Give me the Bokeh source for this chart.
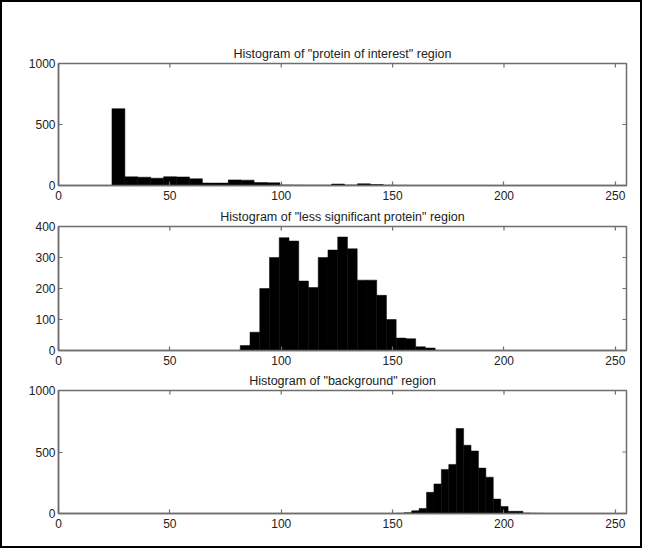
import numpy as np
from bokeh.plotting import figure
from bokeh.layouts import column
from bokeh.models import FixedTicker, Range1d
from bokeh.embed import file_html
from bokeh.resources import INLINE

# ---- data ----
x_ticks = [0, 50, 100, 150, 200, 250]

poi_title = 'Histogram of "protein of interest" region'
poi_lo, poi_hi = 24.0, 163.2
poi_counts = [630, 71, 68, 60, 72, 70, 55, 20, 20, 46, 44, 24, 22, 4,
              3, 2, 2, 12, 4, 14, 8, 2, 1, 0]
poi_yticks = [0, 500, 1000]

less_title = 'Histogram of "less significant protein" region'
less_lo, less_hi = 81.6, 169.1
less_counts = [16, 59, 200, 300, 364, 353, 224, 203, 300, 324,
               366, 328, 227, 227, 178, 100, 40, 38, 12, 8]
less_yticks = [0, 100, 200, 300, 400]

bg_title = 'Histogram of "background" region'
bg_lo, bg_hi = 151.9, 218.5
bg_counts = [2, 6, 22, 41, 172, 240, 358, 399, 691, 555,
             508, 369, 295, 117, 57, 18, 18, 4, 2, 1]
bg_yticks = [0, 500, 1000]

X_MAX = 255
GRAY = "#6e6e6e"
TXT = "#222222"
FONT = "Liberation Sans"


def style_axis(ax, ticks):
    ax.ticker = FixedTicker(ticks=ticks)
    ax.major_tick_in = 4
    ax.major_tick_out = 0
    ax.minor_tick_in = 0
    ax.minor_tick_out = 0
    ax.major_tick_line_color = GRAY
    ax.major_tick_line_width = 1.2
    ax.axis_line_color = GRAY
    ax.axis_line_width = 1.5
    ax.major_label_text_font = FONT
    ax.major_label_text_color = TXT
    ax.major_label_text_font_size = "12px"


def panel(title, lo, hi, counts, y_max, y_ticks, h, top, bottom):
    edges = np.linspace(lo, hi, len(counts) + 1)
    p = figure(width=638, height=h, x_range=Range1d(0, X_MAX),
               y_range=Range1d(0, y_max), output_backend="svg",
               toolbar_location=None, min_border_left=56,
               min_border_right=14, min_border_top=top,
               min_border_bottom=bottom)
    p.quad(left=edges[:-1], right=edges[1:], top=counts, bottom=0,
           fill_color="black", line_color="black", line_width=0.5)
    # inward tick marks on the top and right edges of the box
    p.ray(x=x_ticks, y=[y_max] * len(x_ticks), length=4,
          length_units="screen", angle=-np.pi / 2,
          line_color=GRAY, line_width=1.2)
    p.ray(x=[X_MAX] * len(y_ticks), y=y_ticks, length=4,
          length_units="screen", angle=np.pi,
          line_color=GRAY, line_width=1.2)
    p.xgrid.visible = False
    p.ygrid.visible = False
    p.outline_line_color = GRAY
    p.outline_line_width = 1.5
    p.background_fill_color = "white"
    p.border_fill_color = "white"
    p.title.text = title
    p.title.align = "center"
    p.title.text_font = FONT
    p.title.text_font_size = "12.5px"
    p.title.text_font_style = "normal"
    p.title.text_color = TXT
    p.title.standoff = 6
    style_axis(p.xaxis[0], x_ticks)
    p.xaxis[0].major_label_standoff = 5
    style_axis(p.yaxis[0], y_ticks)
    p.yaxis[0].major_label_standoff = 3
    return p


p1 = panel(poi_title, poi_lo, poi_hi, poi_counts, 1000, poi_yticks, 201, 61, 18)
p2 = panel(less_title, less_lo, less_hi, less_counts, 400, less_yticks, 165, 23, 18)
p3 = panel(bg_title, bg_lo, bg_hi, bg_counts, 1000, bg_yticks, 178, 22, 33)

layout = column(p1, p2, p3, spacing=0,
                styles={"border": "2px solid black", "background": "white"})

with open("out.html", "w") as f:
    f.write(file_html(layout, INLINE))
